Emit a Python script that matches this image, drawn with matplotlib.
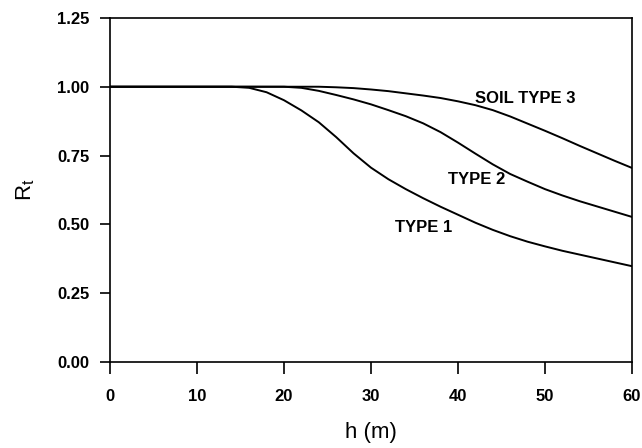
import matplotlib
matplotlib.use("Agg")
import matplotlib.pyplot as plt

h_values = [0, 10, 14, 16, 18, 20, 22, 24, 26, 28, 30, 32, 34, 36, 38, 40,
            42, 44, 46, 48, 50, 52, 54, 56, 58, 60]
rt_type1 = [1.0, 1.0, 1.0, 0.996, 0.98, 0.951, 0.914, 0.871, 0.817, 0.758, 0.706,
            0.664, 0.628, 0.595, 0.564, 0.535, 0.506, 0.48, 0.457, 0.437, 0.42,
            0.404, 0.39, 0.376, 0.362, 0.348]
rt_type2 = [1.0, 1.0, 1.0, 1.0, 1.0, 1.0, 0.996, 0.985, 0.97, 0.954, 0.936,
            0.915, 0.893, 0.867, 0.835, 0.797, 0.757, 0.718, 0.683, 0.655, 0.628,
            0.605, 0.584, 0.565, 0.546, 0.527]
rt_type3 = [1.0, 1.0, 1.0, 1.0, 1.0, 1.0, 1.0, 1.0, 0.998, 0.995, 0.99,
            0.984, 0.976, 0.968, 0.959, 0.947, 0.933, 0.915, 0.892, 0.866, 0.84,
            0.813, 0.785, 0.758, 0.731, 0.705]

x_ticks = [0, 10, 20, 30, 40, 50, 60]
y_ticks = [0.00, 0.25, 0.50, 0.75, 1.00, 1.25]
y_ticklabels = ["0.00", "0.25", "0.50", "0.75", "1.00", "1.25"]

labels = ["TYPE 1", "TYPE 2", "SOIL TYPE 3"]
label_pos = [(32.8, 0.49), (38.8, 0.664), (41.9, 0.956)]

plt.rcParams['font.family'] = ['Liberation Sans', 'DejaVu Sans']

fig = plt.figure(figsize=(6.42, 4.48), dpi=100)
ax = fig.add_axes([0.1713, 0.192, 0.8131, 0.768])

for series in (rt_type1, rt_type2, rt_type3):
    ax.plot(h_values, series, color='black', lw=1.4)

for lab, (x, y) in zip(labels, label_pos):
    ax.text(x, y, lab, fontsize=12, fontweight='bold', ha='left', va='center')

ax.set_xlim(0, 60)
ax.set_ylim(0, 1.25)
ax.set_xticks(x_ticks)
ax.set_yticks(y_ticks)
ax.set_yticklabels(y_ticklabels)
ax.tick_params(axis='x', direction='out', length=8.5, width=1.2, labelsize=12, pad=11)
ax.tick_params(axis='y', direction='out', length=7, width=1.2, labelsize=12, pad=8)
for t in ax.get_xticklabels() + ax.get_yticklabels():
    t.set_fontweight('bold')
for s in ax.spines.values():
    s.set_linewidth(1.2)

ax.set_xlabel('h (m)', fontsize=16, labelpad=13)
ax.set_ylabel(r'R$_\mathregular{t}$', fontsize=16, labelpad=14)

fig.savefig('out.png', dpi=100)
